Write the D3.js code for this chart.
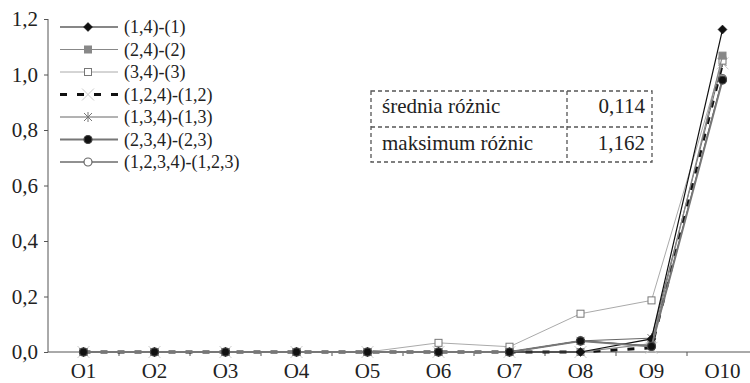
<!DOCTYPE html>
<html>
<head>
<meta charset="utf-8">
<script src="https://cdn.jsdelivr.net/npm/d3@7"></script>
<style>
  body { margin: 0; background: #fff; }
  svg text { font-family: "Liberation Serif", "Times New Roman", serif !important; }
</style>
</head>
<body>
<script>
// data
const categories = ['O1', 'O2', 'O3', 'O4', 'O5', 'O6', 'O7', 'O8', 'O9', 'O10'];
const yTicks = [0, 0.2, 0.4, 0.6, 0.8, 1.0, 1.2];

const s14 = [0, 0, 0, 0, 0, 0, 0, 0, 0.047, 1.162];
const s24 = [0, 0, 0, 0, 0, 0, 0, 0, 0.03, 1.068];
const s34 = [0, 0, 0, 0, 0, 0.033, 0.019, 0.138, 0.186, 1.05];
const s124 = [0, 0, 0, 0, 0, 0, 0, 0, 0.015, 1.04];
const s134 = [0, 0, 0, 0, 0, 0, 0, 0.04, 0.05, 1.045];
const s234 = [0, 0, 0, 0, 0, 0, 0, 0.04, 0.02, 0.98];
const s1234 = [0, 0, 0, 0, 0, 0, 0, 0.04, 0.022, 0.985];

const seriesNames = ['(1,4)-(1)', '(2,4)-(2)', '(3,4)-(3)', '(1,2,4)-(1,2)', '(1,3,4)-(1,3)', '(2,3,4)-(2,3)', '(1,2,3,4)-(1,2,3)'];
const seriesValues = [s14, s24, s34, s124, s134, s234, s1234];

const tableLabels = ['średnia różnic', 'maksimum różnic'];
const tableValues = ['0,114', '1,162'];

const FONT = 'Liberation Serif';

// styles per series
const styles = [
  { line: '#111', width: 1.2, dash: null, marker: 'diamond', fill: '#111', stroke: '#111' },
  { line: '#888', width: 1.2, dash: null, marker: 'square', fill: '#888', stroke: '#888' },
  { line: '#aaa', width: 1, dash: null, marker: 'square', fill: '#fff', stroke: '#777' },
  { line: '#111', width: 3, dash: '7,10', marker: 'x', fill: 'none', stroke: '#ccc' },
  { line: '#666', width: 1, dash: null, marker: 'star', fill: 'none', stroke: '#777' },
  { line: '#777', width: 2, dash: null, marker: 'circle', fill: '#111', stroke: '#444' },
  { line: '#222', width: 1, dash: null, marker: 'circle', fill: '#fff', stroke: '#666' },
];
// order in which the series are painted (filled circles end on top)
const drawOrder = [3, 6, 4, 2, 1, 0, 5];

const W = 750, H = 383;
const axisLeft = 48, axisBottom = 352, axisTop = 19;

const svg = d3.select('body').append('svg').attr('width', W).attr('height', H);

const x = d3.scaleBand().domain(categories).range([axisLeft, axisLeft + 710]).padding(0);
const y = d3.scaleLinear().domain([0, 1.2]).range([axisBottom, axisTop]);
const cx = d => x(d) + x.bandwidth() / 2;

// serif text helper
const serif = (sel, size) => sel.style('font-family', `"${FONT}"`).attr('font-size', size);

// y axis
const yAxis = svg.append('g')
  .attr('transform', `translate(${axisLeft},0)`)
  .call(d3.axisLeft(y).tickValues(yTicks).tickSize(4).tickPadding(6)
    .tickFormat(d => d3.format('.1f')(d).replace('.', ',')));
yAxis.attr('font-family', null).attr('font-size', null);
yAxis.select('.domain').attr('stroke', '#555').attr('d', `M0,${axisTop}V${axisBottom}`);
yAxis.selectAll('.tick line').attr('stroke', '#555');
serif(yAxis.selectAll('.tick text').attr('fill', '#222'), 21);

// x axis: line, ticks between categories, labels at centers
const xg = svg.append('g');
xg.append('line').attr('x1', axisLeft).attr('x2', W).attr('y1', axisBottom).attr('y2', axisBottom)
  .attr('stroke', '#555').attr('stroke-width', 1);
xg.selectAll('.xt').data(categories.slice(1)).enter().append('line')
  .attr('x1', d => x(d)).attr('x2', d => x(d))
  .attr('y1', axisBottom).attr('y2', axisBottom + 4)
  .attr('stroke', '#555');
serif(xg.selectAll('.xl').data(categories).enter().append('text')
  .attr('x', d => cx(d)).attr('y', 378)
  .attr('text-anchor', 'middle').attr('fill', '#222')
  .text(d => d), 21);

// marker drawing
function drawMarker(g, type, px, py, st) {
  if (type === 'diamond') {
    g.append('path').attr('d', `M${px},${py - 4.5}L${px + 4.5},${py}L${px},${py + 4.5}L${px - 4.5},${py}Z`)
      .attr('fill', st.fill).attr('stroke', st.stroke).attr('stroke-width', 0.5);
  } else if (type === 'square') {
    g.append('rect').attr('x', px - 3.5).attr('y', py - 3.5).attr('width', 7).attr('height', 7)
      .attr('fill', st.fill).attr('stroke', st.stroke).attr('stroke-width', 1);
  } else if (type === 'x') {
    g.append('path').attr('d', `M${px - 6},${py - 6}L${px + 6},${py + 6}M${px - 6},${py + 6}L${px + 6},${py - 6}`)
      .attr('stroke', st.stroke).attr('stroke-width', 1).attr('fill', 'none');
  } else if (type === 'star') {
    g.append('path').attr('d', `M${px - 4},${py - 4}L${px + 4},${py + 4}M${px - 4},${py + 4}L${px + 4},${py - 4}M${px},${py - 5}L${px},${py + 5}`)
      .attr('stroke', st.stroke).attr('stroke-width', 1).attr('fill', 'none');
  } else if (type === 'circle') {
    g.append('circle').attr('cx', px).attr('cy', py).attr('r', 4)
      .attr('fill', st.fill).attr('stroke', st.stroke).attr('stroke-width', 1.2);
  }
}

// series
const line = d3.line().x((d, i) => cx(categories[i])).y(d => y(d));
drawOrder.forEach(k => {
  const vals = seriesValues[k];
  const st = styles[k];
  const g = svg.append('g');
  g.append('path').datum(vals)
    .attr('fill', 'none')
    .attr('stroke', st.line)
    .attr('stroke-width', st.width)
    .attr('stroke-dasharray', st.dash)
    .attr('d', line);
  vals.forEach((v, i) => drawMarker(g, st.marker, cx(categories[i]), y(v), st));
});

// legend
const legend = svg.append('g');
seriesNames.forEach((name, k) => {
  const st = styles[k];
  const ly = 27 + k * 22.5;
  legend.append('line').attr('x1', 60).attr('x2', 118).attr('y1', ly).attr('y2', ly)
    .attr('stroke', st.line).attr('stroke-width', st.width).attr('stroke-dasharray', st.dash);
  drawMarker(legend, st.marker, 88, ly, st);
  serif(legend.append('text').attr('x', 124).attr('y', ly + 6)
    .attr('fill', '#222').text(name), 18);
});

// table of statistics
const tbl = svg.append('g');
const tx0 = 371, tx1 = 652, tdiv = 567, ty0 = 91, ty1 = 162, tmid = 127;
const dashStyle = el => el.attr('stroke', '#555').attr('stroke-width', 1.3).attr('stroke-dasharray', '4,3').attr('fill', 'none');
dashStyle(tbl.append('rect').attr('x', tx0).attr('y', ty0).attr('width', tx1 - tx0).attr('height', ty1 - ty0));
dashStyle(tbl.append('line').attr('x1', tx0).attr('x2', tx1).attr('y1', tmid).attr('y2', tmid));
dashStyle(tbl.append('line').attr('x1', tdiv).attr('x2', tdiv).attr('y1', ty0).attr('y2', ty1));
tableLabels.forEach((t, i) => {
  const by = i === 0 ? 113 : 150;
  serif(tbl.append('text').attr('x', 382).attr('y', by).attr('fill', '#222').text(t), 21);
  serif(tbl.append('text').attr('x', 645).attr('y', by).attr('fill', '#222')
    .attr('text-anchor', 'end').text(tableValues[i]), 21);
});
</script>
</body>
</html>
